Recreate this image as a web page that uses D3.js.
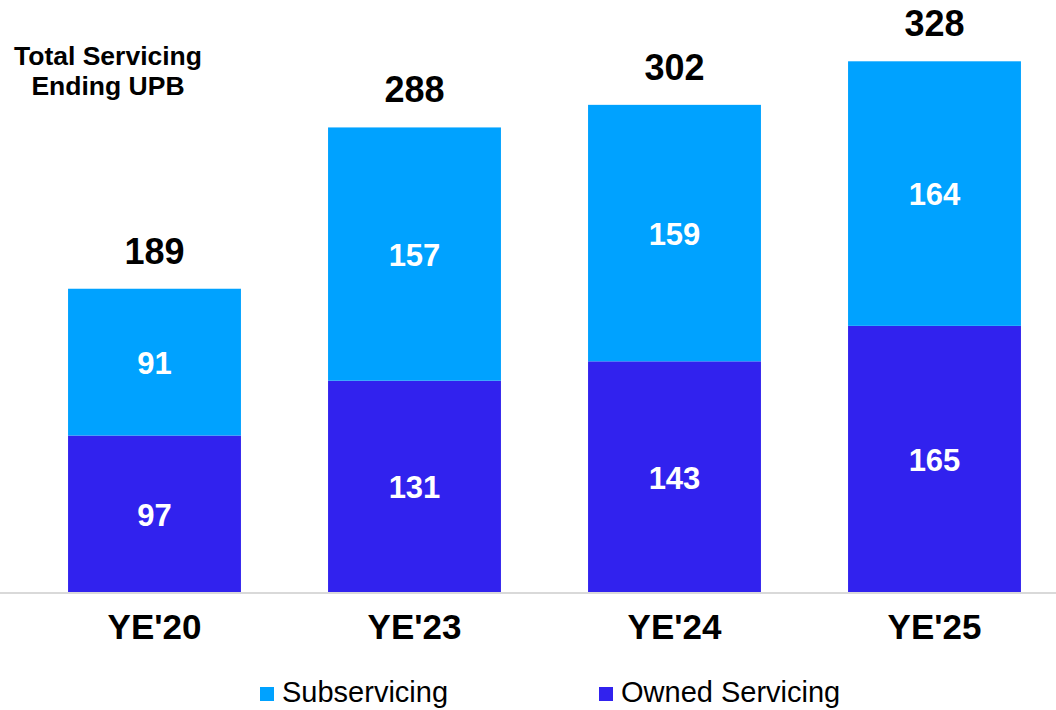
<!DOCTYPE html>
<html>
<head>
<meta charset="utf-8">
<script src="https://cdn.jsdelivr.net/npm/d3@7"></script>
<style>
  body { margin: 0; background: #fff; }
  svg { display: block; font-family: Arial, "Liberation Sans", sans-serif; }
</style>
</head>
<body>
<div id="chart"></div>
<script>
// Data
const categories = ["YE'20", "YE'23", "YE'24", "YE'25"];
const owned = [97, 131, 143, 165];
const subservicing = [91, 157, 159, 164];
const totals = [189, 288, 302, 328];
const seriesNames = ["Subservicing", "Owned Servicing"];

const colors = {
    sub: "#00a2ff",
    owned: "#3122ee"
};

const width = 1056;
const height = 710;
const baseline = 592;

const svg = d3.select("#chart").append("svg")
    .attr("width", width)
    .attr("height", height);

const rows = categories.map((c, i) => ({ cat: c, owned: owned[i], sub: subservicing[i], total: totals[i] }));
const stack = d3.stack().keys(["owned", "sub"])(rows);

const x = d3.scaleBand()
    .domain(categories)
    .range([24.5, 1064.5])
    .paddingInner(0.335)
    .paddingOuter(0.1675);

const y = d3.scaleLinear()
    .domain([0, 367])
    .range([baseline, 0]);

// Bars
const fills = { owned: colors.owned, sub: colors.sub };
stack.forEach(layer => {
    svg.append("g").selectAll("rect")
        .data(layer)
        .join("rect")
        .attr("x", d => x(d.data.cat))
        .attr("y", d => y(d[1]))
        .attr("width", x.bandwidth())
        .attr("height", d => y(d[0]) - y(d[1]))
        .attr("fill", fills[layer.key]);

    // value labels inside segments
    svg.append("g").selectAll("text")
        .data(layer)
        .join("text")
        .attr("x", d => x(d.data.cat) + x.bandwidth() / 2)
        .attr("y", d => (y(d[0]) + y(d[1])) / 2 + 1)
        .attr("dy", "0.35em")
        .attr("text-anchor", "middle")
        .attr("fill", "#fff")
        .style("font-size", "31px")
        .style("font-weight", "bold")
        .text(d => d.data[layer.key]);
});

// Baseline axis
const xAxis = svg.append("g")
    .attr("transform", `translate(0,${baseline + 1})`)
    .call(d3.axisBottom(x).tickSize(0).tickPadding(21));
xAxis.select(".domain").remove();
xAxis.append("line")
    .attr("x1", 0).attr("x2", width)
    .attr("stroke", "#d9d9d9").attr("stroke-width", 2);
xAxis.selectAll(".tick text")
    .attr("fill", "#000")
    .style("font-family", "Arial, 'Liberation Sans', sans-serif")
    .style("font-size", "35px")
    .style("font-weight", "bold");

// Totals above bars
svg.append("g").selectAll("text")
    .data(stack[1])
    .join("text")
    .attr("x", d => x(d.data.cat) + x.bandwidth() / 2)
    .attr("y", d => y(d[1]) - 25)
    .attr("text-anchor", "middle")
    .style("font-size", "36px")
    .style("font-weight", "bold")
    .text(d => d.data.total);

// Side title
const title = svg.append("text")
    .attr("text-anchor", "middle")
    .style("font-size", "26.5px")
    .style("font-weight", "bold");
title.append("tspan").attr("x", 108).attr("y", 65).text("Total Servicing");
title.append("tspan").attr("x", 108).attr("y", 95).text("Ending UPB");

// Legend
const legendItems = [
    { name: seriesNames[0], color: colors.sub, x: 260 },
    { name: seriesNames[1], color: colors.owned, x: 599 }
];
const legend = svg.append("g");
legendItems.forEach(item => {
    legend.append("rect")
        .attr("x", item.x).attr("y", 687)
        .attr("width", 14).attr("height", 14)
        .attr("fill", item.color);
    legend.append("text")
        .attr("x", item.x + 22).attr("y", 702)
        .style("font-size", "29px")
        .text(item.name);
});
</script>
</body>
</html>
